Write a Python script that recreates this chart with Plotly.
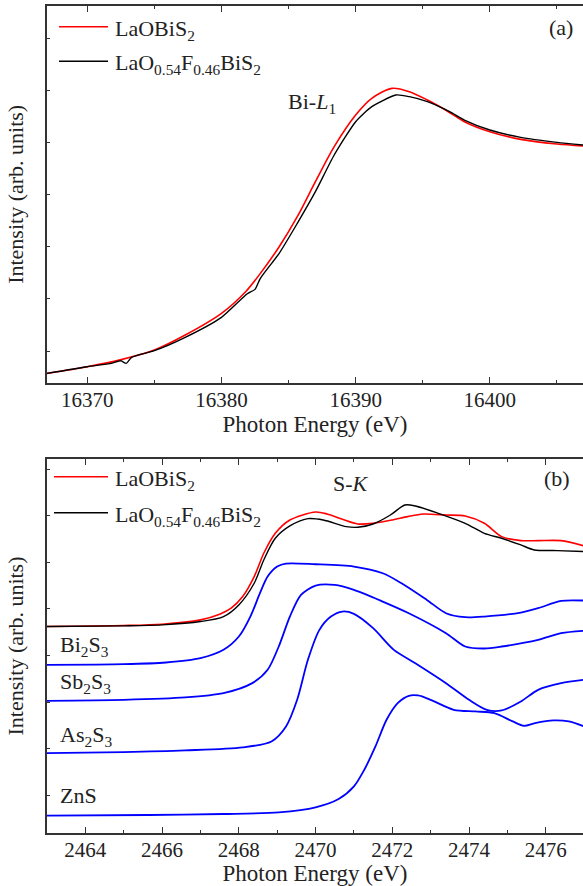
import plotly.graph_objects as go

# ---------------- Panel (a): Bi-L1 edge ----------------
e_a_red = [16367.0, 16370.0, 16372.6, 16375.0, 16377.3, 16380.0, 16381.8, 16382.9, 16384.3,
           16385.65, 16387.0, 16388.4, 16390.0, 16391.2, 16392.7, 16394.0, 16395.35, 16396.7,
           16398.1, 16400.0, 16402.3, 16405.0, 16407.0]
i_a_red = [0.28, 0.48, 0.70, 0.98, 1.43, 2.08, 2.73, 3.28, 4.08, 4.98, 6.03, 7.08, 8.03, 8.53,
           8.83, 8.73, 8.48, 8.18, 7.83, 7.53, 7.30, 7.16, 7.10]

e_a_blk = [16367.0, 16370.0, 16371.8, 16372.5, 16372.9, 16373.3, 16375.0, 16377.3, 16380.0,
           16381.9, 16382.5, 16382.9, 16384.3, 16385.65, 16387.0, 16388.4, 16390.0, 16391.2,
           16393.0, 16394.0, 16395.35, 16397.0, 16398.1, 16400.0, 16402.3, 16405.0, 16407.0]
i_a_blk = [0.28, 0.48, 0.58, 0.66, 0.58, 0.76, 0.96, 1.36, 1.96, 2.66, 2.80, 3.13, 3.88, 4.78,
           5.73, 6.83, 7.83, 8.28, 8.63, 8.58, 8.43, 8.13, 7.88, 7.58, 7.36, 7.21, 7.13]

# ---------------- Panel (b): S-K edge ----------------
e_b_red = [2463.0, 2465.0, 2466.0, 2467.0, 2467.5, 2467.8, 2468.1, 2468.4, 2468.65, 2468.95,
           2469.33, 2470.0, 2470.3, 2470.7, 2471.1, 2471.5, 2472.0, 2472.4, 2472.8, 2473.4,
           2473.9, 2474.4, 2474.85, 2475.35, 2475.8, 2476.4, 2477.0]
i_b_red = [6.20, 6.23, 6.27, 6.40, 6.57, 6.75, 7.10, 7.70, 8.40, 9.00, 9.40, 9.64, 9.58, 9.42,
           9.28, 9.30, 9.40, 9.50, 9.58, 9.55, 9.52, 9.30, 8.90, 8.78, 8.78, 8.78, 8.62]

e_b_blk = [2463.0, 2465.0, 2466.0, 2467.0, 2467.6, 2468.0, 2468.4, 2468.65, 2468.95, 2469.33,
           2469.8, 2470.2, 2470.8, 2471.1, 2471.5, 2471.95, 2472.33, 2472.6, 2473.2, 2473.9,
           2474.4, 2474.85, 2475.35, 2475.7, 2476.3, 2477.0]
i_b_blk = [6.20, 6.22, 6.25, 6.35, 6.50, 6.85, 7.50, 8.20, 8.85, 9.22, 9.44, 9.40, 9.20, 9.18,
           9.28, 9.55, 9.85, 9.82, 9.60, 9.30, 9.00, 8.85, 8.65, 8.50, 8.48, 8.45]

e_bi2s3 = [2463.0, 2465.0, 2466.1, 2467.0, 2467.6, 2468.0, 2468.3, 2468.55, 2468.75, 2469.0,
           2469.23, 2470.0, 2471.0, 2471.75, 2472.24, 2472.9, 2473.4, 2473.9, 2474.4, 2475.35,
           2475.8, 2476.4, 2477.0]
i_bi2s3 = [5.05, 5.07, 5.12, 5.25, 5.50, 5.90, 6.50, 7.20, 7.70, 8.00, 8.09, 8.07, 8.00, 7.80,
           7.50, 7.00, 6.60, 6.48, 6.50, 6.62, 6.75, 6.97, 6.98]

e_sb2s3 = [2463.0, 2465.0, 2466.6, 2467.6, 2468.35, 2468.75, 2469.04, 2469.33, 2469.62, 2470.0,
           2470.5, 2471.0, 2471.75, 2472.43, 2473.4, 2473.9, 2474.4, 2474.85, 2475.8, 2476.4,
           2477.0]
i_sb2s3 = [3.97, 4.00, 4.07, 4.20, 4.50, 4.90, 5.60, 6.50, 7.15, 7.43, 7.45, 7.30, 6.95, 6.60,
           6.00, 5.60, 5.54, 5.60, 5.80, 6.00, 6.07]

e_as2s3 = [2463.0, 2465.0, 2466.6, 2468.1, 2468.85, 2469.23, 2469.52, 2469.8, 2470.1, 2470.4,
           2470.7, 2471.0, 2471.5, 2472.04, 2472.6, 2473.4, 2474.0, 2474.46, 2474.85, 2475.35,
           2475.8, 2476.4, 2477.0]
i_as2s3 = [2.40, 2.43, 2.48, 2.57, 2.75, 3.20, 4.00, 5.20, 6.10, 6.50, 6.65, 6.58, 6.15, 5.50,
           5.10, 4.50, 4.00, 3.70, 3.68, 3.95, 4.30, 4.50, 4.60]

e_zns = [2463.0, 2465.65, 2467.6, 2469.04, 2470.0, 2470.6, 2471.0, 2471.27, 2471.56, 2471.85,
         2472.14, 2472.43, 2472.67, 2473.0, 2473.6, 2474.17, 2474.66, 2475.14, 2475.43, 2475.72,
         2476.2, 2476.6, 2477.0]
i_zns = [0.52, 0.54, 0.57, 0.62, 0.77, 1.02, 1.40, 1.90, 2.60, 3.40, 3.90, 4.12, 4.13, 4.00,
         3.70, 3.65, 3.60, 3.35, 3.22, 3.30, 3.38, 3.35, 3.20]

ref_names = ["Bi<sub>2</sub>S<sub>3</sub>", "Sb<sub>2</sub>S<sub>3</sub>",
             "As<sub>2</sub>S<sub>3</sub>", "ZnS"]
ref_label_y = [5.62, 4.49, 2.92, 1.12]
legend_names = ["LaOBiS<sub>2</sub>", "LaO<sub>0.54</sub>F<sub>0.46</sub>BiS<sub>2</sub>"]

xrange_a = [16367, 16406.94]
xrange_b = [2463, 2476.97]
yrange_a = [0, 11.30]
yrange_b = [0, 11.23]

FONT = "Liberation Serif"
TXT = "#222222"
AX = "#333333"
RED = "#ff0000"
BLK = "#000000"
BLUE = "#0000ff"

fig = go.Figure()
fig.add_trace(go.Scatter(x=e_a_red, y=i_a_red, mode="lines", name=legend_names[0],
                         line=dict(color=RED, width=1.6, shape="spline", smoothing=0.8),
                         xaxis="x", yaxis="y", showlegend=False))
fig.add_trace(go.Scatter(x=e_a_blk, y=i_a_blk, mode="lines", name=legend_names[1],
                         line=dict(color=BLK, width=1.4, shape="spline", smoothing=0.6),
                         xaxis="x", yaxis="y", showlegend=False))
fig.add_trace(go.Scatter(x=e_b_red, y=i_b_red, mode="lines", name=legend_names[0],
                         line=dict(color=RED, width=1.6, shape="spline", smoothing=0.8),
                         xaxis="x2", yaxis="y2", showlegend=False))
fig.add_trace(go.Scatter(x=e_b_blk, y=i_b_blk, mode="lines", name=legend_names[1],
                         line=dict(color=BLK, width=1.4, shape="spline", smoothing=0.8),
                         xaxis="x2", yaxis="y2", showlegend=False))
for ex, iy, nm in zip([e_bi2s3, e_sb2s3, e_as2s3, e_zns], [i_bi2s3, i_sb2s3, i_as2s3, i_zns], ref_names):
    fig.add_trace(go.Scatter(x=ex, y=iy, mode="lines", name=nm,
                             line=dict(color=BLUE, width=1.8, shape="spline", smoothing=0.8),
                             xaxis="x2", yaxis="y2", showlegend=False))

axis_common = dict(showline=True, linecolor=AX, linewidth=1.5, ticks="inside",
                   tickcolor=AX, tickwidth=1.2, showgrid=False, zeroline=False,
                   tickfont=dict(family=FONT, size=21, color=TXT))

fig.update_layout(
    width=583, height=886,
    margin=dict(l=47, r=0, t=6, b=53),
    paper_bgcolor="white", plot_bgcolor="white",
    font=dict(family=FONT, size=21, color=TXT),
    xaxis=dict(**axis_common, domain=[0, 1], anchor="y", range=xrange_a, mirror="ticks",
               tick0=16370, dtick=10, ticklen=6, tickformat="d", ticklabelstandoff=-3,
               minor=dict(ticks="inside", dtick=5, ticklen=3, tickcolor=AX, tickwidth=1.2),
               title=dict(text="Photon Energy (eV)", font=dict(family=FONT, size=23, color=TXT),
                          standoff=2)),
    yaxis=dict(**axis_common, domain=[0.5445, 1], anchor="x", range=yrange_a, mirror=False,
               tick0=0.95, dtick=1.563, ticklen=3, showticklabels=False,
               title=dict(text="Intensity (arb. units)", font=dict(family=FONT, size=22, color=TXT),
                          standoff=16)),
    xaxis2=dict(**axis_common, domain=[0, 1], anchor="y2", range=xrange_b, mirror="ticks",
                tick0=2464, dtick=2, ticklen=6, tickformat="d", ticklabelstandoff=-3,
                minor=dict(ticks="inside", dtick=1, ticklen=3, tickcolor=AX, tickwidth=1.2),
                title=dict(text="Photon Energy (eV)", font=dict(family=FONT, size=23, color=TXT),
                           standoff=2)),
    yaxis2=dict(**axis_common, domain=[0, 0.4522], anchor="x2", range=yrange_b, mirror=False,
                tick0=1.13, dtick=1.40, ticklen=3, showticklabels=False,
                title=dict(text="Intensity (arb. units)", font=dict(family=FONT, size=22, color=TXT),
                           standoff=16)),
)

ann = []
# panel labels and edge labels
ann.append(dict(text="(a)", x=16405.3, y=10.67, xref="x", yref="y", showarrow=False,
                font=dict(family=FONT, size=22, color=TXT), xanchor="center", yanchor="middle"))
ann.append(dict(text="Bi-<i>L</i><sub>1</sub>", x=16384.8, y=8.38, xref="x", yref="y", showarrow=False,
                font=dict(family=FONT, size=22, color=TXT), xanchor="left", yanchor="middle"))
ann.append(dict(text="(b)", x=2476.3, y=10.66, xref="x2", yref="y2", showarrow=False,
                font=dict(family=FONT, size=22, color=TXT), xanchor="center", yanchor="middle"))
ann.append(dict(text="S-<i>K</i>", x=2470.93, y=10.51, xref="x2", yref="y2", showarrow=False,
                font=dict(family=FONT, size=22, color=TXT), xanchor="center", yanchor="middle"))
for nm, yy in zip(ref_names, ref_label_y):
    ann.append(dict(text=nm, x=2463.29, y=yy, xref="x2", yref="y2", showarrow=False,
                    font=dict(family=FONT, size=22, color=TXT), xanchor="left", yanchor="middle"))

# legends (swatch lines + labels) for each panel
shapes = []
leg_specs = [("x", "y", [0.945, 0.853], 0.0224), ("x2", "y2", [0.9527, 0.8565], 0.0131)]
for xr, yr, ys, x0 in leg_specs:
    for nm, col, yy in zip(legend_names, [RED, BLK], ys):
        shapes.append(dict(type="line", xref=f"{xr} domain", yref=f"{yr} domain",
                           x0=x0, x1=0.1138, y0=yy, y1=yy, line=dict(color=col, width=1.5)))
        ann.append(dict(text=nm, x=0.1239, y=yy - 0.008, xref=f"{xr} domain", yref=f"{yr} domain",
                        showarrow=False, font=dict(family=FONT, size=22, color=TXT),
                        xanchor="left", yanchor="middle"))

fig.update_layout(annotations=ann, shapes=shapes)
fig.write_html("out.html", config={"displayModeBar": False},
               post_script="document.body.style.margin='0';document.body.style.overflow='hidden';")
